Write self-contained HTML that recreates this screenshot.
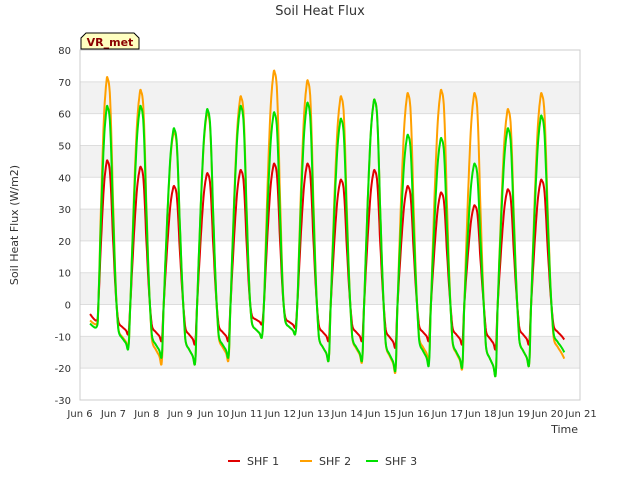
<!DOCTYPE html>
<html><head><meta charset="utf-8"><style>
body{margin:0;background:#fff;font-family:"Liberation Sans","DejaVu Sans",sans-serif;}
svg text{font-family:"DejaVu Sans","Liberation Sans",sans-serif;}
</style></head><body>
<svg id="chart" width="640" height="480" xmlns="http://www.w3.org/2000/svg">
<text x="320" y="15" text-anchor="middle" font-size="13" fill="#333">Soil Heat Flux</text>
<g id="bands"></g>
<g id="grid"></g>
<rect x="80" y="50" width="500" height="350" fill="none" stroke="#ccc"/>
<g id="yticks"></g><g id="xticks"></g>
<g id="series"></g>
<text transform="translate(18,225) rotate(-90)" text-anchor="middle" font-size="11" fill="#333">Soil Heat Flux (W/m2)</text>
<text x="578" y="433" text-anchor="end" font-size="11" fill="#333">Time</text>
<g>
<path d="M81,49 L81,38 L86,33 L134,33 L139,38 L139,49 Z" fill="#ffffc0" stroke="#000"/>
<text x="110" y="46" text-anchor="middle" font-size="11" font-weight="bold" fill="#8b0000">VR_met</text>
</g>
<g id="legend"></g>
</svg>
<script>
const seriesNames=["SHF 1","SHF 2","SHF 3"];
const seriesColors=["#e00000","#ffa000","#00e000"];
const minTimes=[6.5,7.45,8.45,9.45,10.45,11.45,12.45,13.45,14.45,15.45,16.45,17.45,18.45,19.45,20.5];
const peakTimes=[6.83,7.83,8.83,9.83,10.83,11.83,12.83,13.83,14.83,15.83,16.83,17.83,18.83,19.83];
const shf1Peaks=[45,43,37,41,42,44,44,39,42,37,35,31,36,39];
const shf2Peaks=[71,67,54,60,65,73,70,65,64,66,67,66,61,66];
const shf3Peaks=[62,62,55,61,62,60,63,58,64,53,52,44,55,59];
const shf1Mins=[-5,-9,-11,-12,-11,-6,-7,-11,-11,-13,-11,-12,-13.5,-12,-11];
const shf2Mins=[-6,-13,-18,-18,-17,-10,-9,-17,-17.5,-20.5,-17,-19.5,-21.5,-18.5,-17];
const shf3Mins=[-7,-13.5,-16,-18,-16,-10,-9,-17,-17,-20,-18.5,-19,-21.5,-18.5,-15];
const startTime=6.3;
const startValues=[-3,-5,-6];
const yTicks=[-30,-20,-10,0,10,20,30,40,50,60,70,80];
const xTicks=[6,7,8,9,10,11,12,13,14,15,16,17,18,19,20,21];

const NS="http://www.w3.org/2000/svg";
const X=d=>80+(d-6)*33.4;
const Y=v=>400-(v+30)*350/110;
function mk(tag,attrs,parent){const e=document.createElementNS(NS,tag);for(const k in attrs)e.setAttribute(k,attrs[k]);parent.appendChild(e);return e;}
const bands=document.getElementById('bands'),grid=document.getElementById('grid');
for(let i=0;i<yTicks.length-1;i++){
  if(i%2===1){const r=mk('rect',{x:80,y:Y(yTicks[i+1]),width:500,height:Y(yTicks[i])-Y(yTicks[i+1]),fill:'#f2f2f2'},bands);
  
  }
}
const yt=document.getElementById('yticks');
yTicks.forEach(v=>{
  const l=mk('line',{x1:80,x2:580,y1:Y(v),y2:Y(v),stroke:'#ddd'},grid);
  
  
  const t=mk('text',{x:71,y:Y(v)+4,'text-anchor':'end','font-size':10,fill:'#333'},yt);t.textContent=v;
  
  
});
const xt=document.getElementById('xticks');
xTicks.forEach(d=>{
  const t=mk('text',{x:X(d),y:417,'text-anchor':'middle','font-size':10,fill:'#333'},xt);t.textContent='Jun '+d;
  
  
});
// cycle shape: phase fraction, weight on peak, weight on min
const riseS=[0.15,0.4,0.65,0.87,1],riseP=[0,0.45,0.82,0.98,1],riseM=[0,0,0,0,0];
const fallS=[0.12,0.26,0.38,0.46,0.54,0.7,0.88,1],fallP=[0.9,0.45,0.1,0,0,0,0,0],fallM=[0,0,0,0.25,0.65,0.78,0.9,1];
function build(peaks,mins,sv){
  const pts=[[startTime,sv]];
  for(let i=0;i<peaks.length;i++){
    const t0=minTimes[i],tp=peakTimes[i],t1=minTimes[i+1],m0=mins[i],m1=mins[i+1],P=peaks[i];
    if(i===0)pts.push([t0,m0]);
    for(let k=0;k<riseS.length;k++)pts.push([t0+(tp-t0)*riseS[k],P*riseP[k]+m0*riseM[k]]);
    for(let k=0;k<fallS.length;k++)pts.push([tp+(t1-tp)*fallS[k],P*fallP[k]+m1*fallM[k]]);
  }
  let d='M'+X(pts[0][0]).toFixed(1)+','+Y(pts[0][1]).toFixed(1);
  for(let i=0;i<pts.length-1;i++){
    const p0=pts[Math.max(0,i-1)],p1=pts[i],p2=pts[i+1],p3=pts[Math.min(pts.length-1,i+2)];
    for(let j=1;j<=6;j++){const t=j/6,t2=t*t,t3=t2*t;
      const f=(a,b,c,e)=>0.5*((2*b)+(-a+c)*t+(2*a-5*b+4*c-e)*t2+(-a+3*b-3*c+e)*t3);
      d+='L'+X(f(p0[0],p1[0],p2[0],p3[0])).toFixed(1)+','+Y(f(p0[1],p1[1],p2[1],p3[1])).toFixed(1);}
  }
  return d;
}
const sg=document.getElementById('series');
const allP=[shf1Peaks,shf2Peaks,shf3Peaks],allM=[shf1Mins,shf2Mins,shf3Mins];
for(let s=0;s<3;s++){
  const p=mk('path',{d:build(allP[s],allM[s],startValues[s]),fill:'none',stroke:seriesColors[s],'stroke-width':2,'stroke-linejoin':'round'},sg);
  
  
}
const lg=document.getElementById('legend');
const lx=[228,300,366];
for(let s=0;s<3;s++){
  const l=mk('line',{x1:lx[s],x2:lx[s]+12,y1:461,y2:461,stroke:seriesColors[s],'stroke-width':2},lg);
  
  
  const t=mk('text',{x:lx[s]+19,y:465,'font-size':11,fill:'#333'},lg);t.textContent=seriesNames[s];
  
  
}
</script>
</body></html>
